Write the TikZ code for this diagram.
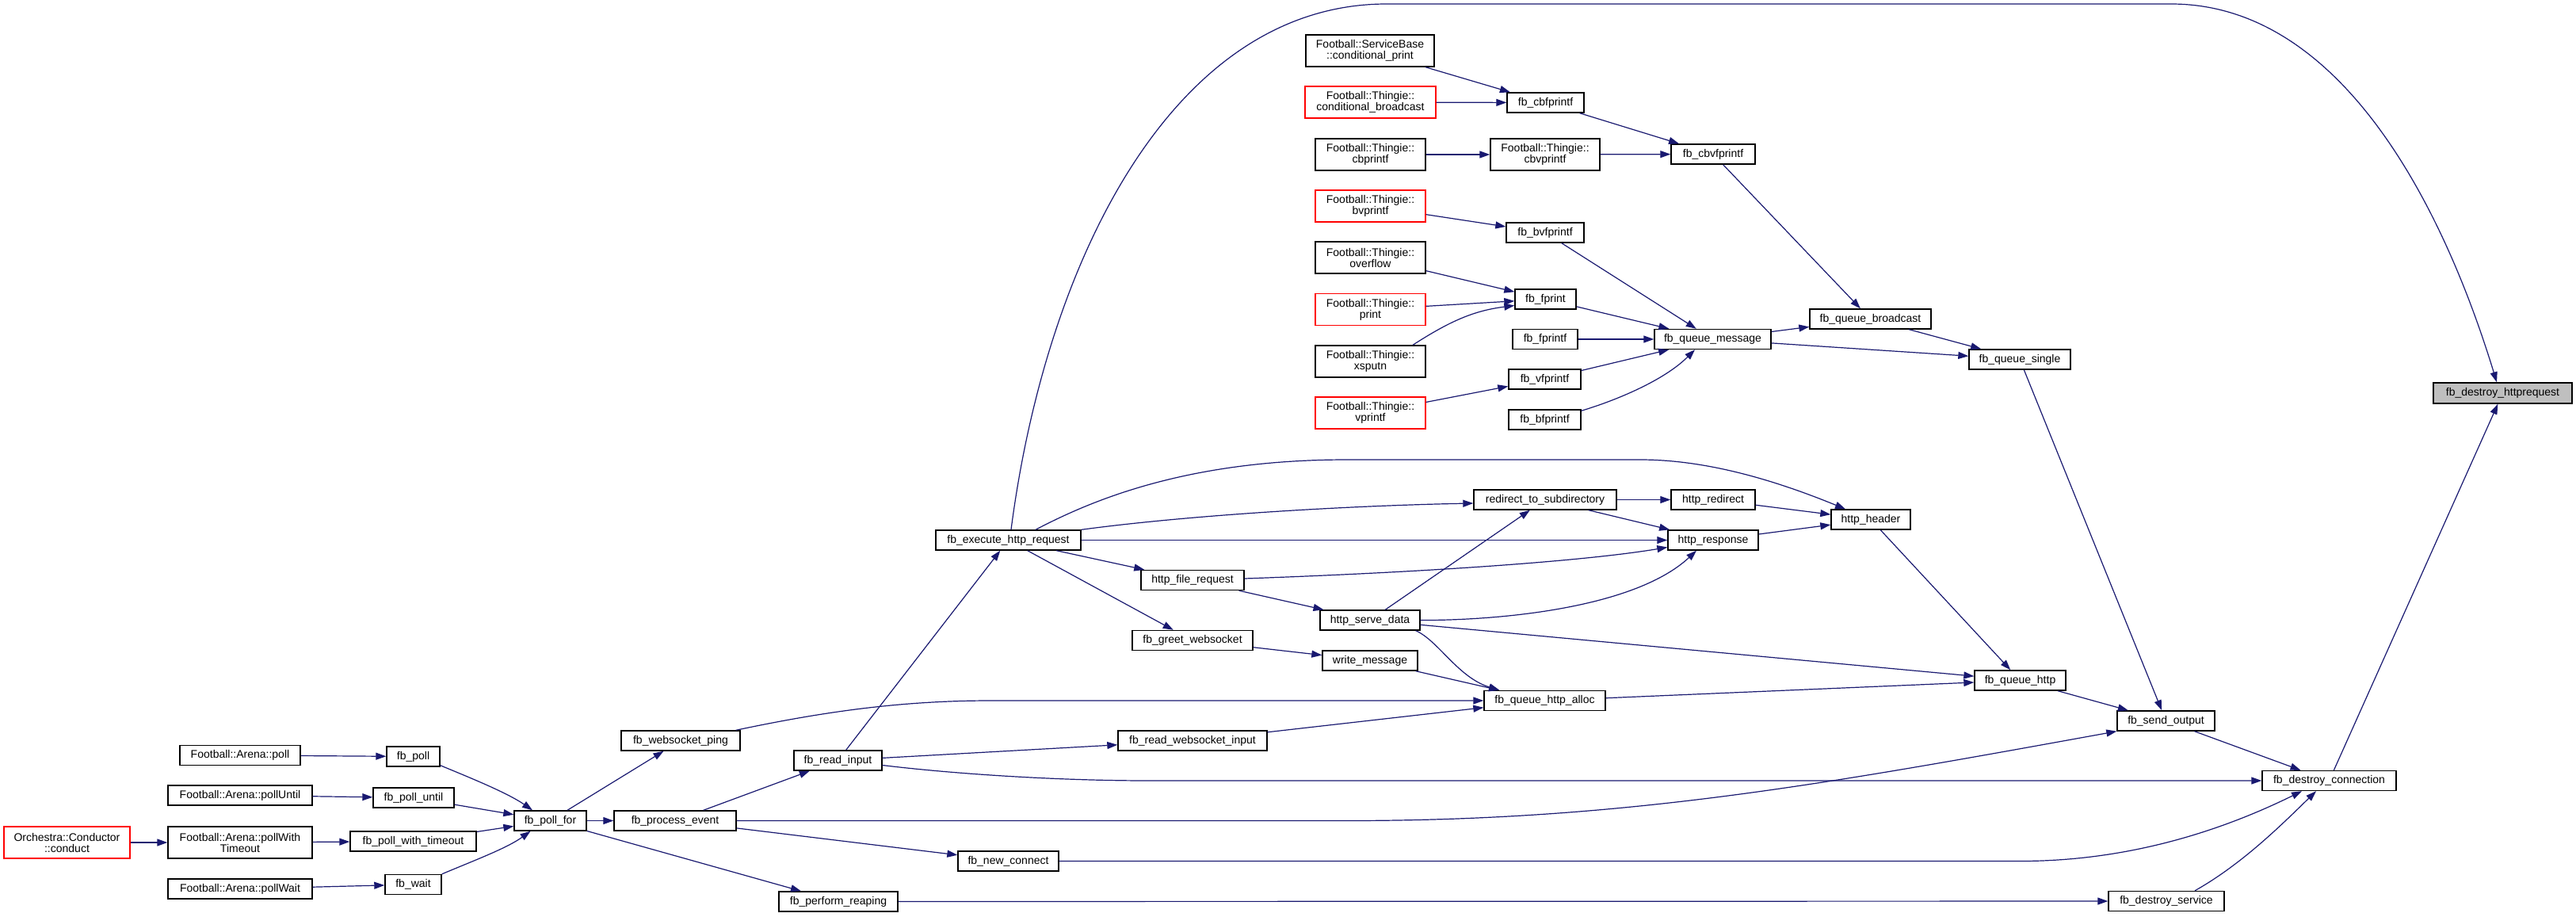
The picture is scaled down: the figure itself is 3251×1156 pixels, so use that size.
\documentclass[tikz,border=0pt]{standalone}
\usepackage{fontspec}
\setmainfont{Liberation Sans}
\usetikzlibrary{arrows.meta,calc}
\definecolor{edgec}{HTML}{191970}
\definecolor{greyfill}{HTML}{BFBFBF}
\begin{document}
\begin{tikzpicture}[x=1pt,y=-1pt,
  fn/.style={draw=black, line width=1.4pt, fill=white, inner sep=0pt,
    font=\fontsize{14}{14}\selectfont, text height=10.5pt, text depth=3pt, minimum height=25pt},
  fntwo/.style={draw=black, line width=1.4pt, fill=white, inner sep=0pt, align=center,
    font=\fontsize{14}{14}\selectfont, minimum height=40pt},
  trunc/.style={draw=red},
  rootn/.style={fill=greyfill},
  e/.style={draw=edgec, line width=1.2pt, -{Triangle[length=13pt,width=9pt]}},
]
\useasboundingbox (0,0) rectangle (3251,1156);
% ---- printf family
\node[fntwo, minimum width=162pt] (cprint) at (1729,64) {Football::ServiceBase\\::conditional\_print};
\node[fntwo, trunc, minimum width=165pt] (cbcast) at (1729.5,129) {Football::Thingie::\\conditional\_broadcast};
\node[fn, minimum width=97pt] (cbfprintf) at (1950.5,129.5) {fb\_cbfprintf};
\node[fntwo, minimum width=139pt] (cbprintf) at (1729.5,195) {Football::Thingie::\\cbprintf};
\node[fntwo, minimum width=138pt] (cbvprintf) at (1950,195) {Football::Thingie::\\cbvprintf};
\node[fn, minimum width=106pt] (fbcbvf) at (2162,194.5) {fb\_cbvfprintf};
\node[fntwo, trunc, minimum width=139pt] (bvprintf) at (1729.5,260) {Football::Thingie::\\bvprintf};
\node[fn, minimum width=98pt] (fbbvf) at (1950,293.5) {fb\_bvfprintf};
\node[fntwo, minimum width=139pt] (overflow) at (1729.5,325) {Football::Thingie::\\overflow};
\node[fn, minimum width=77pt] (fbfprint) at (1950.5,377.5) {fb\_fprint};
\node[fntwo, trunc, minimum width=139pt] (print) at (1729.5,390.5) {Football::Thingie::\\print};
\node[fntwo, minimum width=139pt] (xsputn) at (1729.5,456) {Football::Thingie::\\xsputn};
\node[fn, minimum width=82pt] (fbfprintf) at (1950,428) {fb\_fprintf};
\node[fn, minimum width=147pt] (qmsg) at (2161.5,428) {fb\_queue\_message};
\node[fn, minimum width=153pt] (qbcast) at (2360.5,402.5) {fb\_queue\_broadcast};
\node[fn, minimum width=91pt] (fbvf) at (1949.5,478.5) {fb\_vfprintf};
\node[fntwo, trunc, minimum width=139pt] (vprintf) at (1729.5,521) {Football::Thingie::\\vprintf};
\node[fn, minimum width=91pt] (fbbf) at (1949.5,529.5) {fb\_bfprintf};
\node[fn, minimum width=128pt] (qsingle) at (2549,453.5) {fb\_queue\_single};
\node[fn, rootn, minimum width=175pt, minimum height=26pt] (httpreq) at (3158.5,496) {fb\_destroy\_httprequest};
% ---- poll family
\node[fn, minimum width=152pt] (poll) at (303,953) {Football::Arena::poll};
\node[fn, minimum width=67pt] (fbpoll) at (521.5,954.5) {fb\_poll};
\node[fn, minimum width=182pt] (pollUntil) at (303,1003.5) {Football::Arena::pollUntil};
\node[fn, minimum width=102pt] (fbpolluntil) at (522,1006.5) {fb\_poll\_until};
\node[fn, minimum width=91pt] (pollfor) at (694.5,1035.5) {fb\_poll\_for};
\node[fntwo, trunc, minimum width=159pt] (orch) at (84.5,1063) {Orchestra::Conductor\\::conduct};
\node[fntwo, minimum width=182pt] (pollWT) at (303,1063) {Football::Arena::pollWith\\Timeout};
\node[fn, minimum width=159pt] (fbpwt) at (521.5,1061.5) {fb\_poll\_with\_timeout};
\node[fn, minimum width=182pt] (pollWait) at (303,1121.5) {Football::Arena::pollWait};
\node[fn, minimum width=71pt] (fbwait) at (521.5,1116) {fb\_wait};
% ---- middle
\node[fn, minimum width=183pt] (exec) at (1272.5,681.5) {fb\_execute\_http\_request};
\node[fn, minimum width=130pt] (filereq) at (1505,732) {http\_file\_request};
\node[fn, minimum width=152pt] (greet) at (1505,808) {fb\_greet\_websocket};
\node[fn, minimum width=150pt] (wsping) at (859,934.5) {fb\_websocket\_ping};
\node[fn, minimum width=111pt] (readinput) at (1057.5,959.5) {fb\_read\_input};
\node[fn, minimum width=188pt] (readws) at (1505,934.5) {fb\_read\_websocket\_input};
\node[fn, minimum width=154pt] (procev) at (852,1035.5) {fb\_process\_event};
\node[fn, minimum width=127pt] (newconn) at (1272.5,1086.5) {fb\_new\_connect};
\node[fn, minimum width=150pt] (reap) at (1058,1137.5) {fb\_perform\_reaping};
\node[fn, minimum width=180pt] (redirect) at (1950,630.5) {redirect\_to\_subdirectory};
\node[fn, minimum width=106pt] (httpredirect) at (2162,630.5) {http\_redirect};
\node[fn, minimum width=100pt] (header) at (2361,655.5) {http\_header};
\node[fn, minimum width=114pt] (response) at (2162,681.5) {http\_response};
\node[fn, minimum width=126pt] (serve) at (1729,782.5) {http\_serve\_data};
\node[fn, minimum width=120pt] (writemsg) at (1729,833.5) {write\_message};
\node[fn, minimum width=153pt] (alloc) at (1949.5,884) {fb\_queue\_http\_alloc};
\node[fn, minimum width=115pt] (qhttp) at (2549.5,858.5) {fb\_queue\_http};
\node[fn, minimum width=123pt] (sendout) at (2733.5,909.5) {fb\_send\_output};
\node[fn, minimum width=169pt] (dconn) at (2939.5,985) {fb\_destroy\_connection};
\node[fn, minimum width=146pt] (dserv) at (2734,1137) {fb\_destroy\_service};

% ---- edges: printf family
\draw[e] (cprint) -- (cbfprintf);
\draw[e] (cbcast) -- (cbfprintf);
\draw[e] (cbfprintf) -- (fbcbvf);
\draw[e] (cbprintf) -- (cbvprintf);
\draw[e] (cbvprintf) -- (fbcbvf);
\draw[e] (fbcbvf) -- (qbcast);
\draw[e] (bvprintf) -- (fbbvf);
\draw[e] (fbbvf) -- (qmsg);
\draw[e] (overflow) -- (fbfprint);
\draw[e] (print) -- (fbfprint);
\draw[e] ($(xsputn.north)+(53.5,0)$) .. controls (1830,405) and (1860,392) .. ($(fbfprint.west)+(0,8)$);
\draw[e] (fbfprint) -- (qmsg);
\draw[e] (fbfprintf) -- (qmsg);
\draw[e] (fbvf) -- (qmsg);
\draw[e] ($(fbbf.north east)+(0,2)$) .. controls (2040,505) and (2100,480) .. ($(qmsg.south)+(-22.5,0)$);
\draw[e] (vprintf) -- (fbvf);
\draw[e] (qmsg) -- (qbcast);
\draw[e] (qmsg) -- (qsingle);
\draw[e] (qbcast) -- (qsingle);
\draw[e] (qsingle) -- (sendout);
\draw[e] (sendout) -- (dconn);
\draw[e] (dconn) -- (httpreq);
\draw[e] ($(exec.north)+(3.5,0)$) .. controls (1320,330) and (1480,5) .. (1750,5) -- (2740,5) .. controls (2950,5) and (3080,250) .. ($(httpreq.north)+(-7.5,0)$);
% ---- edges: http
\draw[e] ($(exec.north)+(34.5,0)$) .. controls (1380,630) and (1500,580) .. (1700,580) -- (2070,580) .. controls (2160,580) and (2250,610) .. ($(header.north)+(-32,0)$);
\draw[e] (exec.north east) .. controls (1500,650) and (1700,638) .. ($(redirect.west)+(0,4.5)$);
\draw[e] (exec) -- (response);
\draw[e] (exec) -- (filereq);
\draw[e] (exec) -- (greet);
\draw[e] ($(filereq.east)+(0,-2)$) .. controls (1800,722) and (2000,708) .. ($(response.west)+(0,9)$);
\draw[e] (filereq) -- (serve);
\draw[e] (greet) -- (writemsg);
\draw[e] (redirect) -- (httpredirect);
\draw[e] (redirect) -- (response);
\draw[e] (httpredirect) -- (header);
\draw[e] (response) -- (header);
\draw[e] (header) -- (qhttp);
\draw[e] (serve) -- (redirect);
\draw[e] (serve.east) .. controls (1880,783) and (2060,770) .. ($(response.south)+(-21,0)$);
\draw[e] (serve) -- (qhttp);
\draw[e] ($(serve.south east)+(-6,0)$) .. controls (1815,808) and (1840,855) .. ($(alloc.north west)+(20,0)$);
\draw[e] (writemsg) -- (alloc);
\draw[e] ($(wsping.north east)+(-6,0)$) .. controls (1030,900) and (1130,884) .. (1250,884) -- (alloc.west);
\draw[e] (readws) -- (alloc);
\draw[e] (alloc) -- (qhttp);
\draw[e] (qhttp) -- (sendout);
% ---- edges: connection handling
\draw[e] (readinput) -- (exec);
\draw[e] (readinput) -- (readws);
\draw[e] ($(readinput.east)+(0,6)$) .. controls (1200,976) and (1330,985) .. (1450,985) -- (dconn.west);
\draw[e] (procev) -- (readinput);
\draw[e] (procev.east) -- (1700,1035.5) .. controls (2050,1035.5) and (2300,990) .. (sendout.south west);
\draw[e] (procev) -- (newconn);
\draw[e] (newconn.east) -- (2550,1086.5) .. controls (2700,1086.5) and (2820,1040) .. ($(dconn.south)+(-34.5,0)$);
\draw[e] (pollfor) -- (wsping);
\draw[e] (pollfor) -- (procev);
\draw[e] (pollfor) -- (reap);
\draw[e] (reap) -- (dserv);
\draw[e] ($(dserv.north)+(36,0)$) .. controls (2830,1090) and (2880,1040) .. ($(dconn.south)+(-16.5,0)$);
% ---- edges: poll family
\draw[e] ($(fbpoll.south east)+(0,-2)$) .. controls (590,980) and (640,1000) .. ($(pollfor.north)+(-22.5,0)$);
\draw[e] (fbpolluntil) -- (pollfor);
\draw[e] (fbpwt) -- (pollfor);
\draw[e] (fbwait.north east) .. controls (600,1085) and (640,1070) .. ($(pollfor.south)+(-25,0)$);
\draw[e] (poll) -- (fbpoll);
\draw[e] (pollUntil) -- (fbpolluntil);
\draw[e] (orch) -- (pollWT);
\draw[e] (pollWT) -- (fbpwt);
\draw[e] (pollWait) -- (fbwait);
\end{tikzpicture}
\end{document}
